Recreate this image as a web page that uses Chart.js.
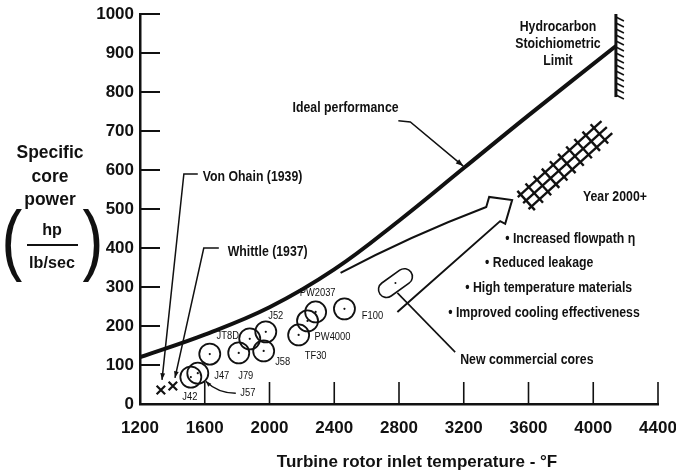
<!DOCTYPE html>
<html lang="en">
<head>
<meta charset="UTF-8" />
<title>Specific core power vs turbine rotor inlet temperature</title>
<script src="https://cdn.jsdelivr.net/npm/chart.js"></script>
<style>
  html, body { margin: 0; padding: 0; background: #fff; }
  #wrap { width: 676px; height: 473px; }
</style>
</head>
<body>
<div id="wrap"><canvas id="powerChart" width="676" height="473"></canvas></div>
<script>
  // axis ticks
  const xTicks = [1200, 1600, 2000, 2400, 2800, 3200, 3600, 4000, 4400];
  const yTicks = [0, 100, 200, 300, 400, 500, 600, 700, 800, 900, 1000];

  // ideal performance curve (deg F, hp/(lb/sec))
  const idealTemp = [1200, 1600, 2000, 2400, 2800, 3200, 3600, 4140];
  const idealPower = [120, 178, 248, 345, 470, 605, 740, 918];

  // engines
  const engineNames = ['J42', 'J57', 'J47', 'J79', 'JT8D', 'J52', 'J58', 'TF30', 'PW4000', 'PW2037', 'F100'];
  const engineTemp = [1514, 1557, 1631, 1810, 1878, 1977, 1964, 2180, 2235, 2285, 2463];
  const enginePower = [69, 79, 128, 131, 167, 185, 136, 177, 213, 236, 244];

  // early jets
  const pioneerNames = ['Von Ohain (1939)', 'Whittle (1937)'];
  const pioneerTemp = [1329, 1403];
  const pioneerPower = [36, 46];

  // stoichiometric limit and future band
  const limitTemp = 4140;
  const limitPower = [787, 1000];
  const futureTemp = [3567, 4084];
  const futurePower = [515, 710];

  // new commercial cores
  const newCoreTemp = 2778;
  const newCorePower = 310;

  const improvements = ['Increased flowpath \u03b7', 'Reduced leakage', 'High temperature materials', 'Improved cooling effectiveness'];

  const FONT = "'Liberation Sans', Arial, Helvetica, sans-serif";
  const INK = '#111';

  function pts(xs, ys) {
    return xs.map((v, i) => ({ x: v, y: ys[i] }));
  }

  // label offsets (px) from each engine circle
  const engineLabelOffset = {
    J42: [-1, 20], J57: [50, 20], J47: [12, 22], J79: [7, 23], JT8D: [-22, -3],
    J52: [10, -16], J58: [19, 11], TF30: [17, 21], PW4000: [25, 16], PW2037: [2, -19], F100: [28, 7]
  };

  function line(ctx, coords, w) {
    ctx.beginPath();
    ctx.lineWidth = w;
    ctx.moveTo(coords[0][0], coords[0][1]);
    for (let i = 1; i < coords.length; i++) ctx.lineTo(coords[i][0], coords[i][1]);
    ctx.stroke();
  }

  function arrowHead(ctx, fx, fy, tx, ty, size) {
    const a = Math.atan2(ty - fy, tx - fx);
    ctx.beginPath();
    ctx.moveTo(tx, ty);
    ctx.lineTo(tx - size * Math.cos(a - 0.35), ty - size * Math.sin(a - 0.35));
    ctx.lineTo(tx - size * Math.cos(a + 0.35), ty - size * Math.sin(a + 0.35));
    ctx.closePath();
    ctx.fill();
  }

  // narrow lettering, like the condensed face of the printed figure
  function narrowText(ctx, str, x, y, font, sx) {
    ctx.save();
    ctx.font = font;
    ctx.translate(x, y);
    ctx.scale(sx, 1);
    ctx.fillText(str, 0, 0);
    ctx.restore();
  }

  const notes = {
    id: 'notes',
    afterDraw(chart) {
      const ctx = chart.ctx;
      const xs = chart.scales.x, ys = chart.scales.y;
      const X = v => xs.getPixelForValue(v);
      const Y = v => ys.getPixelForValue(v);
      const area = chart.chartArea;
      const F = 'bold 15px ' + FONT;
      const SX = 0.82;
      ctx.save();
      ctx.strokeStyle = INK;
      ctx.fillStyle = INK;
      ctx.lineCap = 'butt';

      // inward tick marks
      yTicks.slice(1).forEach(v => line(ctx, [[area.left, Y(v)], [area.left + 20, Y(v)]], 2));
      xTicks.slice(1).forEach(v => line(ctx, [[X(v), area.bottom], [X(v), area.bottom - 22]], 1.6));

      // axis titles
      ctx.textAlign = 'center';
      ctx.textBaseline = 'middle';
      narrowText(ctx, 'Specific', 50, 153, 'bold 18px ' + FONT, 0.97);
      narrowText(ctx, 'core', 50, 177, 'bold 18px ' + FONT, 0.97);
      narrowText(ctx, 'power', 50, 200, 'bold 18px ' + FONT, 0.97);
      narrowText(ctx, 'hp', 52, 230, 'bold 17px ' + FONT, 0.95);
      narrowText(ctx, 'lb/sec', 52, 263, 'bold 17px ' + FONT, 0.95);
      line(ctx, [[27, 245], [78, 245]], 2);
      narrowText(ctx, '(', 12, 244, '78px ' + FONT, 0.8);
      narrowText(ctx, ')', 93, 244, '78px ' + FONT, 0.8);
      narrowText(ctx, 'Turbine rotor inlet temperature - \u00b0F', 417, 462, 'bold 17px ' + FONT, 1);

      // stoichiometric limit
      const lx = X(limitTemp);
      line(ctx, [[lx, Y(limitPower[0])], [lx, Y(limitPower[1])]], 3);
      for (let yy = Y(limitPower[1]) + 3; yy < Y(limitPower[0]); yy += 6) {
        line(ctx, [[lx, yy], [lx + 8, yy + 4]], 1.6);
      }
      narrowText(ctx, 'Hydrocarbon', X(3782), Y(967), F, SX);
      narrowText(ctx, 'Stoichiometric', X(3782), Y(923), F, SX);
      narrowText(ctx, 'Limit', X(3782), Y(879), F, SX);

      // year 2000+ cross-hatched band
      const ax = X(futureTemp[0]), ay = Y(futurePower[0]);
      const bx = X(futureTemp[1]), by = Y(futurePower[1]);
      const len = Math.hypot(bx - ax, by - ay);
      const ux = (bx - ax) / len, uy = (by - ay) / len;
      const nx = -uy, ny = ux;
      [-8, 0, 8].forEach(o => line(ctx, [[ax + nx * o, ay + ny * o], [bx + nx * o, by + ny * o]], 2.4));
      for (let s = 4; s < len; s += 11) {
        const cx = ax + ux * s, cy = ay + uy * s;
        line(ctx, [[cx - nx * 13, cy - ny * 13], [cx + nx * 13, cy + ny * 13]], 2.4);
      }
      narrowText(ctx, 'Year 2000+', X(4134), Y(531), F, SX);

      // improvement bullets
      ctx.textAlign = 'left';
      const bulletT = [3456, 3332, 3209, 3104];
      const bulletP = [423, 362, 297, 233];
      improvements.forEach((t, i) => narrowText(ctx, '\u2022 ' + t, X(bulletT[i]), Y(bulletP[i]), F, SX));

      // hollow trend arrow
      ctx.lineWidth = 2;
      ctx.beginPath();
      ctx.moveTo(X(2439), Y(336));
      ctx.quadraticCurveTo(X(2870), Y(431), X(3339), Y(505));
      ctx.lineTo(X(3357), Y(531));
      ctx.lineTo(X(3499), Y(523));
      ctx.lineTo(X(3456), Y(462));
      ctx.lineTo(X(3425), Y(469));
      ctx.lineTo(X(2790), Y(236));
      ctx.stroke();

      // new commercial cores
      const cx = X(newCoreTemp), cy = Y(newCorePower);
      ctx.save();
      ctx.translate(cx, cy);
      ctx.rotate(-0.62);
      ctx.beginPath();
      ctx.roundRect(-19, -8, 38, 16, 8);
      ctx.lineWidth = 1.6;
      ctx.stroke();
      ctx.restore();
      ctx.beginPath();
      ctx.arc(cx, cy, 1, 0, Math.PI * 2);
      ctx.fill();
      line(ctx, [[X(2790), Y(285)], [X(3147), Y(133)]], 1.6);
      narrowText(ctx, 'New commercial cores', X(3178), Y(113), F, SX);

      // ideal performance label
      ctx.textAlign = 'center';
      narrowText(ctx, 'Ideal performance', X(2470), Y(759), F, SX);
      line(ctx, [[X(2796), Y(726)], [X(2870), Y(723)], [X(3197), Y(610)]], 1.5);
      arrowHead(ctx, X(2870), Y(723), X(3197), Y(610), 8);

      // early jets
      ctx.textAlign = 'left';
      narrowText(ctx, pioneerNames[0], X(1588), Y(582), F, SX);
      line(ctx, [[X(1557), Y(590)], [X(1471), Y(590)], [X(1336), Y(62)]], 1.5);
      arrowHead(ctx, X(1471), Y(590), X(1336), Y(62), 7);
      narrowText(ctx, pioneerNames[1], X(1742), Y(390), F, SX);
      line(ctx, [[X(1687), Y(400)], [X(1594), Y(400)], [X(1416), Y(67)]], 1.5);
      arrowHead(ctx, X(1594), Y(400), X(1416), Y(67), 7);

      // engine labels
      ctx.textAlign = 'center';
      engineNames.forEach((n, i) => {
        const o = engineLabelOffset[n];
        narrowText(ctx, n, X(engineTemp[i]) + o[0], Y(enginePower[i]) + o[1], '11px ' + FONT, 0.85);
      });
      // J57 pointer
      const j = engineNames.indexOf('J57');
      const jx = X(engineTemp[j]), jy = Y(enginePower[j]);
      ctx.lineWidth = 1.4;
      ctx.beginPath();
      ctx.moveTo(jx + 38, jy + 20);
      ctx.quadraticCurveTo(jx + 20, jy + 20, jx + 8, jy + 8);
      ctx.stroke();
      arrowHead(ctx, jx + 16, jy + 16, jx + 8, jy + 8, 6);

      ctx.restore();
    }
  };

  new Chart(document.getElementById('powerChart'), {
    type: 'scatter',
    data: {
      datasets: [
        {
          type: 'line',
          data: pts(idealTemp, idealPower),
          borderColor: INK,
          borderWidth: 4,
          pointRadius: 0,
          tension: 0.4,
          fill: false
        },
        {
          data: pts(engineTemp, enginePower),
          pointRadius: 10.5,
          borderColor: INK,
          borderWidth: 1.8,
          backgroundColor: 'rgba(0,0,0,0)'
        },
        {
          data: pts(engineTemp, enginePower),
          pointRadius: 1.1,
          borderWidth: 0,
          backgroundColor: INK
        },
        {
          data: pts(pioneerTemp, pioneerPower),
          pointStyle: 'crossRot',
          pointRadius: 6,
          borderWidth: 2.2,
          borderColor: INK
        }
      ]
    },
    options: {
      responsive: false,
      animation: false,
      devicePixelRatio: 1,
      layout: { padding: { top: 14, right: 18, left: 0, bottom: 0 }, autoPadding: false },
      plugins: { legend: { display: false }, tooltip: { enabled: false } },
      scales: {
        x: {
          type: 'linear',
          min: 1200,
          max: 4400,
          afterFit: s => { s.height = 69; s.paddingLeft = 0; s.paddingRight = 0; },
          afterBuildTicks: s => { s.ticks = xTicks.map(v => ({ value: v })); },
          grid: { display: false, drawTicks: false },
          border: { display: true, color: INK, width: 2.5 },
          ticks: { color: INK, padding: 14, maxRotation: 0, callback: v => String(v), font: { family: FONT, size: 17, weight: 'bold' } }
        },
        y: {
          type: 'linear',
          min: 0,
          max: 1000,
          afterFit: s => { s.width = 140; s.paddingTop = 0; s.paddingBottom = 0; },
          afterBuildTicks: s => { s.ticks = yTicks.map(v => ({ value: v })); },
          grid: { display: false, drawTicks: false },
          border: { display: true, color: INK, width: 2.5 },
          ticks: { color: INK, padding: 6, callback: v => String(v), font: { family: FONT, size: 17, weight: 'bold' } }
        }
      }
    },
    plugins: [notes]
  });
</script>
</body>
</html>
